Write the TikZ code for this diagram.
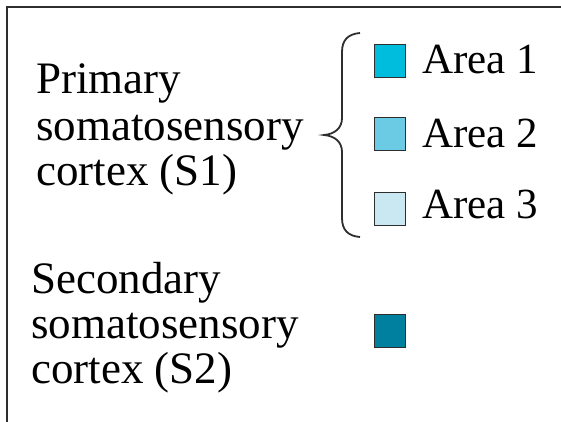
\documentclass[tikz,border=0pt]{standalone}
\usepackage{fontspec}
\setmainfont{Liberation Serif}
\definecolor{aone}{HTML}{00BCDD}
\definecolor{atwo}{HTML}{6CCBE4}
\definecolor{athree}{HTML}{C9E8F2}
\definecolor{stwo}{HTML}{00809F}
\definecolor{edge}{HTML}{2E2E2E}
\tikzset{
  lbl/.style={anchor=base west, inner sep=0pt, font=\fontsize{43}{46}\selectfont, text=black},
  biglbl/.style={lbl, font=\fontsize{45}{46}\selectfont},
  swatch/.style={draw=edge, line width=1.3pt, minimum width=31pt, minimum height=33pt, inner sep=0pt},
}
\begin{document}
\begin{tikzpicture}[x=1pt, y=-1pt]
\useasboundingbox (0,0) rectangle (561,421);
\fill[white] (0,0) rectangle (561,421);
\draw[edge, line width=2pt] (7,425) -- (7,7) -- (565,7);
% left labels
\node[biglbl] (p1) at (36,93) {Primary};
\node[biglbl] (p2) at (36,140) {somatosensory};
\node[biglbl] (p3) at (36,185) {cortex (S1)};
\node[biglbl] (s1) at (31,293) {Secondary};
\node[biglbl] (s2) at (31,338) {somatosensory};
\node[biglbl] (s3) at (31,383) {cortex (S2)};
% brace
\draw[edge, line width=1.8pt] (360,33) .. controls (348,34) and (342,40) .. (342,52) -- (342,118) .. controls (342,128) and (335,134) .. (324,135) .. controls (335,136) and (342,142) .. (342,152) -- (342,218) .. controls (342,230) and (348,236) .. (360,237);
% swatches
\node[swatch, fill=aone] (q1) at (390,61) {};
\node[swatch, fill=atwo] (q2) at (390,134) {};
\node[swatch, fill=athree] (q3) at (390,209) {};
\node[swatch, fill=stwo] (q4) at (390,331) {};
% area labels
\node[lbl] (a1) at (422,73) {Area 1};
\node[lbl] (a2) at (422,147) {Area 2};
\node[lbl] (a3) at (422,218) {Area 3};
\end{tikzpicture}
\end{document}
